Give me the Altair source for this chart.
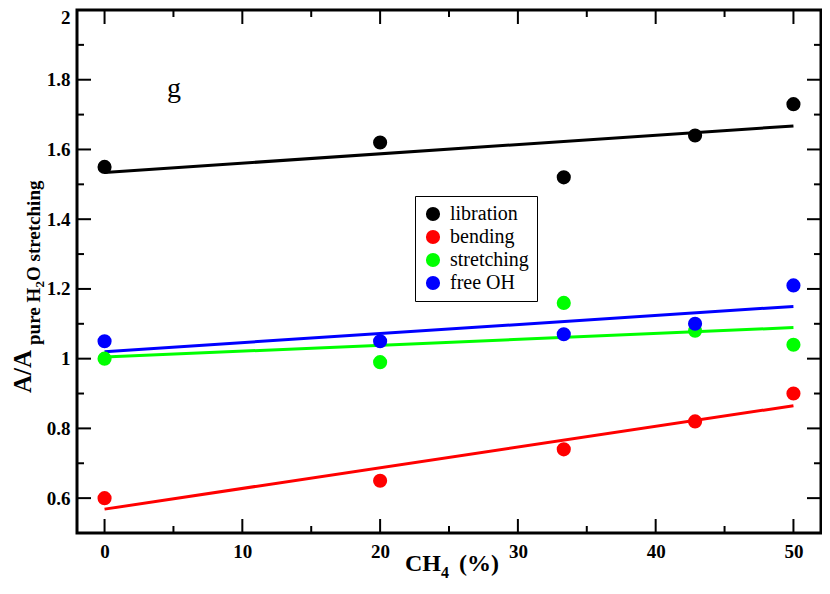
import altair as alt
import pandas as pd

# ---- data ----
ch4 = [0, 20, 33.33, 42.86, 50]
libration = [1.55, 1.62, 1.52, 1.64, 1.73]
bending = [0.60, 0.65, 0.74, 0.82, 0.90]
stretching = [1.00, 0.99, 1.16, 1.08, 1.04]
free_oh = [1.05, 1.05, 1.07, 1.10, 1.21]

series_names = ["libration", "bending", "stretching", "free OH"]
series_colors = ["#000000", "#ff0000", "#00ff00", "#0000ff"]

x_major = [0, 10, 20, 30, 40, 50]
x_minor = [5, 15, 25, 35, 45]
y_major = [0.6, 0.8, 1.0, 1.2, 1.4, 1.6, 1.8, 2.0]
y_minor = [0.7, 0.9, 1.1, 1.3, 1.5, 1.7, 1.9]

panel_label = ["g"]
xt_main = ["CH"]
xt_sub = ["4"]
xt_rest = ["(%)"]
yt_main = ["A/A"]
yt_sub1 = ["pure H"]
yt_sub2 = ["2"]
yt_sub3 = ["O stretching"]

W, H = 744, 523
SERIF = "Liberation Serif"

rows = []
for name, vals in zip(series_names, [libration, bending, stretching, free_oh]):
    for xv, yv in zip(ch4, vals):
        rows.append({"x": xv, "y": yv, "series": name})
df = pd.DataFrame(rows)

xscale = alt.Scale(domain=[-2, 52], nice=False, zero=False)
yscale = alt.Scale(domain=[0.5, 2.0], nice=False, zero=False)
cscale = alt.Scale(domain=series_names, range=series_colors)

xaxis = alt.Axis(values=x_major, title=None, ticks=False, tickSize=0, domain=False,
                 grid=False, labelFont=SERIF, labelFontWeight="bold", labelFontSize=19,
                 labelColor="black", labelPadding=9)
yaxis = alt.Axis(values=y_major, format="~g", title=None, ticks=False, tickSize=0,
                 domain=False, grid=False, labelFont=SERIF, labelFontWeight="bold",
                 labelFontSize=19, labelColor="black", labelPadding=7,
                 labelFlush=True, labelFlushOffset=2)

base = alt.Chart(df)

lines = base.transform_regression("x", "y", groupby=["series"]).mark_line(
    strokeWidth=3
).encode(
    x=alt.X("x:Q", scale=xscale, axis=xaxis),
    y=alt.Y("y:Q", scale=yscale, axis=yaxis),
    color=alt.Color("series:N", scale=cscale, legend=None),
    detail="series:N",
)

points = base.mark_circle(size=200, opacity=1).encode(
    x=alt.X("x:Q", scale=xscale, axis=xaxis),
    y=alt.Y("y:Q", scale=yscale, axis=yaxis),
    color=alt.Color(
        "series:N",
        scale=cscale,
        title=None,
        legend=alt.Legend(
            orient="none", legendX=338, legendY=186, strokeColor="black",
            fillColor="white", padding=8, symbolType="circle", symbolSize=200,
            symbolStrokeWidth=0, labelFont=SERIF, labelFontSize=20,
            labelColor="black", labelOffset=7, rowPadding=3,
        ),
    ),
)

def xticks(vals, y0, y1):
    return alt.Chart(pd.DataFrame({"v": vals})).mark_rule(color="black", strokeWidth=2).encode(
        x=alt.X("v:Q", scale=xscale, axis=xaxis), y=alt.value(y0), y2=alt.value(y1)
    )

def yticks(vals, x0, x1):
    return alt.Chart(pd.DataFrame({"v": vals})).mark_rule(color="black", strokeWidth=2).encode(
        y=alt.Y("v:Q", scale=yscale, axis=yaxis), x=alt.value(x0), x2=alt.value(x1)
    )

ticks = [
    xticks(x_major, H, H - 14), xticks(x_minor, H, H - 7),
    xticks(x_major, 0, 14), xticks(x_minor, 0, 7),
    yticks(y_major, 0, 14), yticks(y_minor, 0, 7),
    yticks(y_major, W, W - 14), yticks(y_minor, W, W - 7),
]

def label(txt, x, y, size, weight="bold", angle=0, align="left"):
    kw = dict(font=SERIF, fontSize=size, fontWeight=weight, color="black",
              align=align, baseline="alphabetic")
    if angle:
        kw["angle"] = angle
    return alt.Chart(pd.DataFrame({"t": txt})).mark_text(**kw).encode(
        text="t:N", x=alt.value(x), y=alt.value(y)
    )

texts = [
    label(panel_label, 97, 87, 28, weight="normal", align="center"),
    label(xt_main, 328, 561, 24),
    label(xt_sub, 364, 568, 16),
    label(xt_rest, 382, 561, 24),
    label(yt_main, -46, 383, 25, angle=270),
    label(yt_sub1, -37, 335, 19, angle=270),
    label(yt_sub2, -33, 277.5, 13, angle=270),
    label(yt_sub3, -37, 271, 19, angle=270),
]

chart = alt.layer(lines, points, *ticks, *texts).resolve_legend(
    color="independent"
).properties(
    width=W,
    height=H,
    padding={"left": 69, "top": 2, "right": 1, "bottom": 49},
    autosize=alt.AutoSizeParams(type="none"),
).configure_view(stroke="black", strokeWidth=3).configure_axis(
    labelFont=SERIF
).configure_legend(labelFont=SERIF)

chart.save("out.html", embed_options={"renderer": "svg", "actions": False})
